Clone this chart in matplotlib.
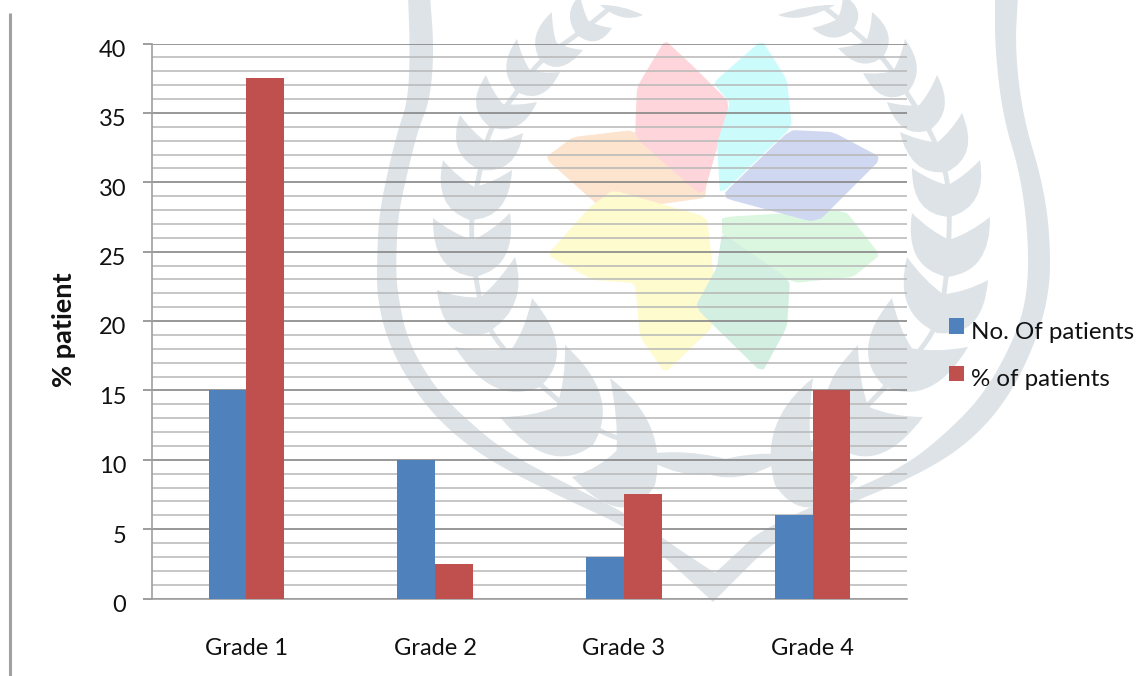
import numpy as np
import matplotlib
matplotlib.use('Agg')
import matplotlib.pyplot as plt
from matplotlib.path import Path
from matplotlib.patches import PathPatch, Polygon
from matplotlib.transforms import ScaledTranslation

plt.rcParams['font.family'] = ['Lato', 'DejaVu Sans']

grades = ['Grade 1', 'Grade 2', 'Grade 3', 'Grade 4']
no_of_patients = [15, 10, 3, 6]
pct_of_patients = [37.5, 2.5, 7.5, 15]
y_ticks = [0, 5, 10, 15, 20, 25, 30, 35, 40]

W, H = 1147, 676
LEAF = '#dde3e7'

# background emblem, in pixel coordinates
band_outer_l = [(408, -5), (410, 50), (408, 100), (398, 130), (388, 170), (379, 215), (377, 260), (377, 295),
                (385, 333), (403, 373), (437, 420), (487, 460), (567, 500), (627, 527), (670, 562)]
band_inner_l = [(680, 550), (633, 517), (573, 487), (507, 453), (467, 420), (435, 388), (407, 340), (397, 290),
                (396, 260), (398, 215), (408, 170), (418, 130), (430, 100), (434, 50), (430, -5)]
band_outer_r = [(753, 562), (773, 543), (850, 503), (907, 480), (960, 450), (1000, 410), (1030, 357), (1050, 295),
                (1050, 233), (1042, 180), (1023, 117), (1015, 50), (1018, -5)]
band_inner_r = [(995, -5), (995, 50), (1003, 117), (1020, 173), (1028, 233), (1028, 290),
                (1017, 333), (987, 390), (950, 430), (900, 470), (810, 507), (757, 533), (740, 550)]
band_tip = [(713, 602)]
band_notch = [(715, 573)]

# base, first tip, second tip of each pair of leaves
sprigs = [((487, 333), (437, 290), (515, 257)),
          ((475, 277), (433, 218), (510, 213)),
          ((470, 220), (443, 160), (512, 170)),
          ((480, 170), (460, 115), (523, 133)),
          ((490, 127), (486, 75), (537, 102)),
          ((517, 92), (517, 39), (560, 72)),
          ((540, 60), (552, 12), (583, 50)),
          ((577, 35), (580, -5), (612, 28)),
          ((540, 387), (455, 347), (532, 298)),
          ((593, 445), (500, 417), (565, 345)),
          ((655, 485), (572, 477), (610, 378)),
          ((947, 277), (912, 213), (990, 217)),
          ((950, 217), (912, 168), (980, 160)),
          ((947, 172), (900, 132), (962, 113)),
          ((930, 130), (887, 102), (937, 75)),
          ((907, 93), (863, 73), (905, 39)),
          ((883, 57), (838, 48), (872, 12)),
          ((853, 30), (812, 28), (843, -5)),
          ((937, 333), (907, 257), (988, 280)),
          ((885, 387), (892, 298), (968, 347)),
          ((835, 445), (858, 345), (923, 417)),
          ((775, 485), (813, 378), (858, 477))]

stems = [[(640, 445), (593, 430), (540, 385), (487, 333), (475, 277), (470, 220), (480, 170), (490, 127),
          (517, 92), (540, 60), (577, 35), (610, 8)],
         [(790, 445), (835, 440), (885, 387), (937, 333), (947, 277), (950, 217), (947, 172), (930, 130),
          (907, 93), (883, 57), (853, 30), (825, 8)]]

small_leaves = [((600, 5), (643, 15), (622, 24)), ((835, 5), (778, 15), (800, 24)),
                ((640, 455), (740, 463), (695, 490)), ((790, 455), (695, 468), (735, 492))]

petals = [('#fde4cf', [(545, 158), (573, 137), (633, 130), (707, 180), (705, 198), (640, 207), (600, 207)]),
          ('#fefbcf', [(613, 190), (707, 217), (713, 270), (713, 327), (665, 373), (640, 337), (635, 283),
                       (593, 280), (547, 255), (590, 207)]),
          ('#fdd5da', [(665, 40), (695, 68), (730, 103), (703, 197), (635, 137), (637, 87)]),
          ('#cbfbfb', [(762, 40), (787, 80), (792, 127), (720, 195), (717, 143), (730, 103), (713, 83)]),
          ('#dcf7e0', [(722, 217), (845, 210), (880, 255), (853, 277), (793, 283), (722, 235)]),
          ('#d3efe1', [(722, 233), (790, 280), (787, 327), (762, 373), (695, 307), (717, 267)]),
          ('#cfd8f0', [(790, 130), (833, 132), (882, 158), (817, 223), (720, 197)])]


def smooth(pts, rounds=3, cut=0.25, closed=False):
    # corner cutting, keeps the ends of an open line where they are
    pts = np.array(pts, float)
    for _ in range(rounds):
        out = []
        n = len(pts)
        rng = range(n) if closed else range(n - 1)
        if not closed:
            out.append(pts[0])
        for i in rng:
            a, b = pts[i], pts[(i + 1) % n]
            out.append(a + (b - a) * cut)
            out.append(b - (b - a) * cut)
        if not closed:
            out.append(pts[-1])
        pts = np.array(out)
    return pts


def leaf_pair(base, tip1, tip2):
    b, t1, t2 = np.array(base, float), np.array(tip1, float), np.array(tip2, float)
    mid = (t1 + t2) / 2
    up = mid - b
    c1 = b + (t1 - mid) * 1.12 + up * 0.12
    c2 = b + (t2 - mid) * 1.12 + up * 0.12
    notch = b + up * 0.6
    n1 = (notch + t1) / 2 - up * 0.08
    n2 = (notch + t2) / 2 - up * 0.08
    verts = [b, c1, t1, n1, notch, n2, t2, c2, b]
    codes = [Path.MOVETO] + [Path.CURVE3] * 8
    return Path(verts, codes)


def single_leaf(a, b, ctrl):
    a, b, ctrl = np.array(a, float), np.array(b, float), np.array(ctrl, float)
    back = (a + b) / 2 - (ctrl - (a + b) / 2) * 0.4
    return Path([a, ctrl, b, back, a], [Path.MOVETO, Path.CURVE3, Path.CURVE3, Path.CURVE3, Path.CURVE3])


fig = plt.figure(figsize=(W / 100, H / 100), dpi=100, facecolor='white')

bg = fig.add_axes([0, 0, 1, 1], zorder=0)
bg.set_xlim(0, W)
bg.set_ylim(H, 0)
bg.axis('off')

band = np.vstack([smooth(band_outer_l), band_tip, smooth(band_outer_r), smooth(band_inner_r),
                  band_notch, smooth(band_inner_l)])
bg.add_patch(Polygon(band, closed=True, fc=LEAF, ec='none'))
for s in stems:
    sm = smooth(s)
    bg.plot(sm[:, 0], sm[:, 1], color=LEAF, lw=3.5, solid_capstyle='round')
for base, t1, t2 in sprigs:
    bg.add_patch(PathPatch(leaf_pair(base, t1, t2), fc=LEAF, ec='none'))
for a, b, c in small_leaves:
    bg.add_patch(PathPatch(single_leaf(a, b, c), fc=LEAF, ec='none'))
for col, pts in petals:
    bg.add_patch(Polygon(smooth(pts, rounds=2, cut=0.07, closed=True), closed=True, fc=col, ec='none'))
# rule down the left margin
bg.plot([9.5, 9.5], [13, H], color='#a0a0a0', lw=2.2, solid_capstyle='butt')

# main axes
left, right, top, bottom = 152, 907, 43.5, 598.5
ax = fig.add_axes([left / W, 1 - bottom / H, (right - left) / W, (bottom - top) / H], zorder=1)
ax.patch.set_visible(False)

x = np.arange(len(grades))
width = 0.2
ax.bar(x - width / 2, no_of_patients, width, color='#4f81bd', label='No. Of patients', zorder=3)
ax.bar(x + width / 2, pct_of_patients, width, color='#c0504d', label='% of patients', zorder=3)

ax.set_xlim(-0.5, 3.5)
ax.set_ylim(0, 40)
ax.set_yticks(y_ticks)
ax.set_yticks(np.arange(0, 41, 1), minor=True)
ax.set_xticks(x)
ax.set_xticklabels(grades)

ax.grid(which='minor', axis='y', color='#b7b7b7', lw=1.1, zorder=1)
ax.grid(which='major', axis='y', color='#868686', lw=1.2, zorder=2)
ax.set_axisbelow(True)

for side in ['top', 'right']:
    ax.spines[side].set_visible(False)
for side in ['left', 'bottom']:
    ax.spines[side].set_color('#a0a0a0')
    ax.spines[side].set_linewidth(1.2)

ax.tick_params(axis='x', which='both', length=0, pad=28.5, labelsize=17, labelcolor='#111111')
ax.tick_params(axis='y', which='major', length=6.5, width=1.2, color='#8c8c8c', pad=12, labelsize=17, labelcolor='#111111')
ax.tick_params(axis='y', which='minor', length=0)

# y labels sit a little under their grid lines
shift = ScaledTranslation(0, -3.6 / 72, fig.dpi_scale_trans)
for lab in ax.get_yticklabels():
    lab.set_transform(lab.get_transform() + shift)

fig.text(64 / W, 1 - 330 / H, '% patient', rotation=90, fontsize=19.5, fontweight='bold',
         ha='center', va='center', color='#111111')

leg = ax.legend(loc='center left', bbox_to_anchor=(949 / W, 1 - 356 / H), bbox_transform=fig.transFigure,
                frameon=False, fontsize=17.4, handlelength=0.62, handleheight=0.62, handletextpad=0.28,
                labelspacing=1.1, borderpad=0, borderaxespad=0, labelcolor='#111111')
# swatches ride a little high against the text
for h in leg.legend_handles:
    h.set_y(h.get_y() + 3)

fig.savefig('out.png', dpi=100)
